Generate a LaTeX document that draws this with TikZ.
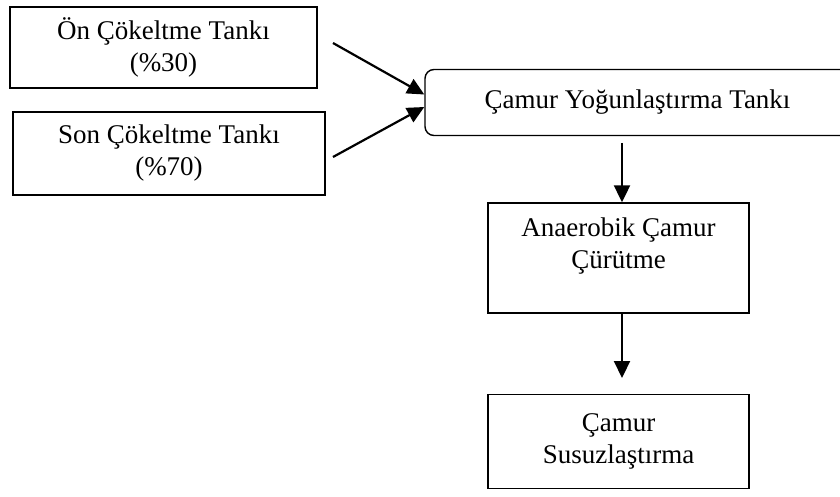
\documentclass[tikz,border=0pt]{standalone}
\usepackage{fontspec}
\setmainfont{Liberation Serif}
\usetikzlibrary{arrows.meta,positioning}

\tikzset{
every picture/.style={
line width=1.4pt
}}

\begin{document}
\begin{tikzpicture}[x=1pt,y=-1pt,>={Triangle[length=17pt,width=16pt]},
  tank/.style={draw, rectangle, align=center, inner sep=0pt,
    font=\fontsize{27}{32}\selectfont},
  flow/.style={->, line width=2.2pt}]

\useasboundingbox (0,0) rectangle (840,497);

\node[tank, minimum width=307pt, minimum height=81pt] (on) at (163.5,47.5) {Ön Çökeltme Tankı\\(\%30)};
\node[tank, minimum width=312pt, minimum height=83pt] (son) at (169,153.5) {Son Çökeltme Tankı\\(\%70)};
\node[tank, rounded corners=9pt, minimum width=425pt, minimum height=66pt] (yogun) at (637.5,102.5) {Çamur Yoğunlaştırma Tankı};
\node[tank, minimum width=261pt, minimum height=110pt, text depth=30pt] (anaerob) at (618.5,258) {Anaerobik Çamur\\Çürütme};
\node[tank, minimum width=261pt, minimum height=94pt] (susuz) [below=80pt of anaerob] {Çamur\\Susuzlaştırma};

\coordinate (onout) at (333,43);
\coordinate (sonout) at (333,157);
\coordinate (yogout) at (622,143);
\coordinate (susin) at (622,378);

\draw[flow] (onout) -- ([yshift=8pt]yogun.west);
\draw[flow] (sonout) -- ([yshift=-4.5pt]yogun.west);
\draw[flow] (yogout) -- (yogout |- anaerob.north);
\draw[flow] (anaerob.south -| yogout) -- (susin);
\end{tikzpicture}
\end{document}
